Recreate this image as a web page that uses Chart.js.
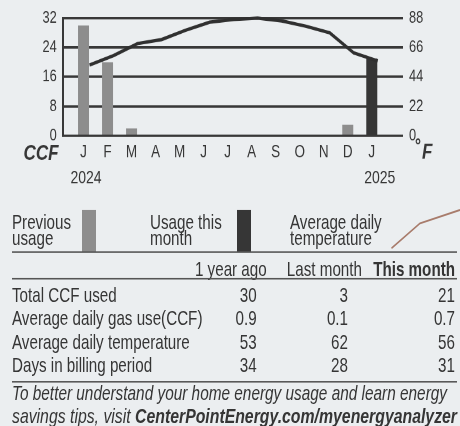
<!DOCTYPE html>
<html>
<head>
<meta charset="utf-8">
<script src="https://cdn.jsdelivr.net/npm/chart.js"></script>
<style>
  html, body { margin: 0; padding: 0; background: #ebeef0; }
  body { width: 460px; height: 426px; overflow: hidden; position: relative; }
  /* the scanned bill is stretched vertically, so draw at 1/1.3 height and stretch */
  #page { position: absolute; left: 0; top: 0; width: 460px; height: 328px;
          transform: scaleY(1.3); transform-origin: 0 0; }
  #lower { position: absolute; left: 0; top: 0; }
  #chart { position: absolute; left: 0; top: 0; }
  text { font-family: "Liberation Sans", Arial, sans-serif; fill: #353535; font-size: 15.2px; }
</style>
</head>
<body>
<div id="page">
  <svg id="lower" width="460" height="328" viewBox="0 0 460 328">
    <!-- legend -->
    <text x="12" y="176.4">Previous</text>
    <text x="12" y="188.6">usage</text>
    <rect x="82" y="161.5" width="14" height="32.3" fill="#8d8d8d"></rect>
    <text x="150" y="176.4">Usage this</text>
    <text x="150" y="188.6">month</text>
    <rect x="237" y="161.5" width="14" height="32.3" fill="#363636"></rect>
    <text x="290" y="176.4">Average daily</text>
    <text x="290" y="188.6">temperature</text>
    <polyline points="391.5,191 420,171.8 460,161.5" fill="none" stroke="#a87c6c" stroke-width="1.4"></polyline>
    <rect x="12" y="193.3" width="445" height="1.2" fill="#555"></rect>

    <!-- table -->
    <g id="table"></g>
    <rect x="12" y="213.8" width="445" height="1.2" fill="#555"></rect>
    <rect x="12" y="293.1" width="445" height="1.2" fill="#555"></rect>

    <!-- footer -->
    <text x="12" y="307.7" font-style="italic" textLength="435" lengthAdjust="spacingAndGlyphs">To better understand your home energy usage and learn energy</text>
    <text x="12" y="325.3" font-style="italic" textLength="445" lengthAdjust="spacingAndGlyphs">savings tips, visit <tspan font-weight="bold">CenterPointEnergy.com/myenergyanalyzer</tspan></text>
  </svg>
  <canvas id="chart" width="460" height="150"></canvas>
</div>

<script>
// chart data
const monthLabels = ["J", "F", "M", "A", "M", "J", "J", "A", "S", "O", "N", "D", "J"];
const yearLabels = ["2024", "2025"];
const usageCCF = [30, 20, 2, 0, 0, 0, 0, 0, 0, 0, 0, 3, 21];
const avgTempF = [53, 60, 69, 72, 79, 85, 87, 88, 86, 82, 77, 62, 56];
const ccfTicks = [0, 8, 16, 24, 32];
const tempTicks = [0, 22, 44, 66, 88];

// table data
const tableCols = ["1 year ago", "Last month", "This month"];
const tableRows = ["Total CCF used", "Average daily gas use(CCF)", "Average daily temperature", "Days in billing period"];
const yearAgoVals = ["30", "0.9", "53", "34"];
const lastMonthVals = ["3", "0.1", "62", "28"];
const thisMonthVals = ["21", "0.7", "56", "31"];

const ink = "#363636";
const fontFam = '"Liberation Sans", Arial, sans-serif';

// build the table rows
const svgNS = "http://www.w3.org/2000/svg";
const tbl = document.getElementById("table");
function addText(str, x, y, anchor, bold) {
  const t = document.createElementNS(svgNS, "text");
  t.setAttribute("x", x);
  t.setAttribute("y", y);
  if (anchor) t.setAttribute("text-anchor", anchor);
  if (bold) t.setAttribute("font-weight", "bold");
  t.textContent = str;
  tbl.appendChild(t);
}
const headerEnds = [266.7, 362, 455];
const valueEnds = [256.7, 348, 455];
tableCols.forEach((c, i) => addText(c, headerEnds[i], 212.6, "end", i === 2));
const rowY = [232.1, 250.2, 268.4, 286.2];
tableRows.forEach((r, i) => {
  addText(r, 12, rowY[i]);
  addText(yearAgoVals[i], valueEnds[0], rowY[i], "end");
  addText(lastMonthVals[i], valueEnds[1], rowY[i], "end");
  addText(thisMonthVals[i], valueEnds[2], rowY[i], "end");
});

// extra axis captions: CCF, °F and the years
const captions = {
  id: "captions",
  afterDraw(chart) {
    const { ctx, chartArea, scales } = chart;
    const x = scales.x;
    ctx.save();
    ctx.fillStyle = ink;
    ctx.textBaseline = "middle";
    ctx.font = "italic bold 17px " + fontFam;
    ctx.textAlign = "right";
    ctx.fillText("CCF", chartArea.left - 4.5, 118.5);
    ctx.textAlign = "left";
    ctx.fillText("F", chartArea.right + 19, 117.5);
    ctx.font = "bold 15px " + fontFam;
    ctx.fillText("°", chartArea.right + 12, 113);
    ctx.font = "14px " + fontFam;
    ctx.textAlign = "center";
    ctx.fillText(yearLabels[0], x.getPixelForValue(0) + 2.5, 136.9);
    ctx.fillText(yearLabels[1], x.getPixelForValue(monthLabels.length - 1) + 8, 136.9);
    ctx.restore();
  }
};

const ctx = document.getElementById("chart").getContext("2d");
new Chart(ctx, {
  type: "bar",
  data: {
    datasets: [
      {
        type: "line",
        label: "Average daily temperature",
        data: avgTempF.map((v, i) => ({ x: i + 0.25, y: v })),
        yAxisID: "yTemp",
        borderColor: "#303030",
        borderWidth: 2.6,
        pointRadius: 0,
        tension: 0,
        clip: false,
        order: 0,
      },
      {
        label: "Usage",
        data: usageCCF.map((v, i) => ({ x: i, y: v })),
        yAxisID: "y",
        backgroundColor: usageCCF.map((v, i) => (i === usageCCF.length - 1 ? "#353535" : "#8d8d8d")),
        barThickness: 11,
        inflateAmount: 0,
        order: 1,
      },
    ],
  },
  options: {
    responsive: false,
    animation: false,
    devicePixelRatio: 2,
    layout: { padding: { top: 12.3, left: 0, right: 0, bottom: 0 } },
    plugins: { legend: { display: false }, tooltip: { enabled: false } },
    scales: {
      x: {
        type: "linear",
        offset: false,
        min: -0.854,
        max: 13.3,
        afterBuildTicks: (axis) => { axis.ticks = monthLabels.map((m, i) => ({ value: i })); },
        afterFit: (scale) => { scale.height = 45.6; },
        grid: { display: false, drawTicks: false },
        border: { display: false },
        ticks: {
          padding: 4.7,
          color: ink,
          font: { family: fontFam, size: 13.5 },
          maxRotation: 0,
          autoSkip: false,
          callback: (v) => monthLabels[v],
        },
      },
      y: {
        position: "left",
        min: 0,
        max: 32,
        afterBuildTicks: (axis) => { axis.ticks = ccfTicks.map((v) => ({ value: v })); },
        afterFit: (scale) => { scale.width = 63; },
        grid: { color: "#383838", lineWidth: 1.9, drawTicks: false },
        border: { display: true, color: "#383838", width: 2 },
        ticks: { padding: 6.3, color: ink, font: { family: fontFam, size: 12.8 } },
      },
      yTemp: {
        position: "right",
        min: 0,
        max: 88,
        afterBuildTicks: (axis) => { axis.ticks = tempTicks.map((v) => ({ value: v })); },
        afterFit: (scale) => { scale.width = 57; },
        grid: { display: false, drawTicks: false },
        border: { display: false },
        ticks: { padding: 6, color: ink, font: { family: fontFam, size: 12.8 } },
      },
    },
  },
  plugins: [captions],
});
</script>
</body>
</html>
